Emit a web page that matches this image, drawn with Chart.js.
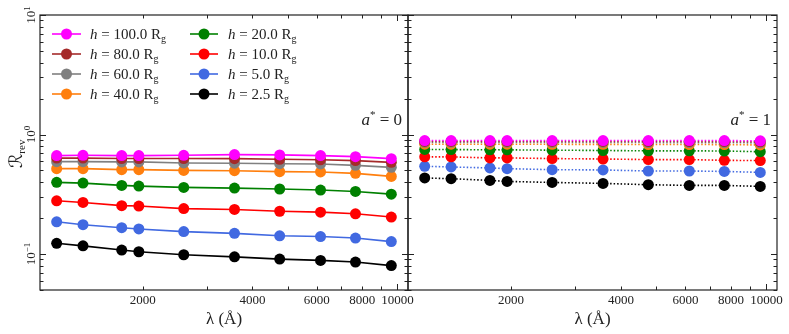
<!DOCTYPE html>
<html>
<head>
<meta charset="utf-8">
<script src="https://cdn.jsdelivr.net/npm/chart.js@4/dist/chart.umd.min.js"></script>
<style>
  html, body { margin: 0; padding: 0; background: #fff; }
  #wrap { position: relative; width: 789px; height: 334px; overflow: hidden; }
  canvas { position: absolute; top: 0; }
  #left { left: 0; }
  #right { left: 400px; }
</style>
</head>
<body>
<div id="wrap">
  <canvas id="left" width="416" height="334"></canvas>
  <canvas id="right" width="389" height="334"></canvas>
</div>
<script>
// wavelengths (Angstrom)
const lambdaAngstrom = [1160, 1370, 1750, 1950, 2590, 3570, 4750, 6150, 7670, 9620];
const heightLabels = ['100.0', '80.0', '60.0', '40.0', '20.0', '10.0', '5.0', '2.5'];
const xTickLabels = [2000, 4000, 6000, 8000, 10000];
const yTickLabels = [0.1, 1, 10];

// a* = 0
const rev_a0_h100 = [0.666, 0.670, 0.666, 0.666, 0.670, 0.679, 0.675, 0.666, 0.653, 0.628];
const rev_a0_h80  = [0.635, 0.635, 0.630, 0.630, 0.630, 0.628, 0.620, 0.615, 0.605, 0.585];
const rev_a0_h60  = [0.593, 0.593, 0.590, 0.590, 0.578, 0.575, 0.570, 0.567, 0.552, 0.531];
const rev_a0_h40  = [0.518, 0.518, 0.508, 0.508, 0.501, 0.498, 0.489, 0.486, 0.473, 0.446];
const rev_a0_h20  = [0.398, 0.392, 0.375, 0.370, 0.361, 0.356, 0.350, 0.343, 0.334, 0.317];
const rev_a0_h10  = [0.279, 0.270, 0.254, 0.252, 0.240, 0.236, 0.228, 0.224, 0.217, 0.204];
const rev_a0_h5   = [0.186, 0.176, 0.166, 0.162, 0.154, 0.149, 0.142, 0.140, 0.136, 0.127];
const rev_a0_h2_5 = [0.123, 0.117, 0.108, 0.1045, 0.0986, 0.0947, 0.0907, 0.0884, 0.0857, 0.080];

// a* = 1
const rev_a1_h100 = [0.890, 0.890, 0.890, 0.890, 0.890, 0.890, 0.890, 0.890, 0.890, 0.885];
const rev_a1_h80  = [0.875, 0.875, 0.875, 0.875, 0.875, 0.875, 0.873, 0.873, 0.872, 0.868];
const rev_a1_h60  = [0.860, 0.860, 0.860, 0.860, 0.858, 0.858, 0.856, 0.856, 0.855, 0.850];
const rev_a1_h40  = [0.830, 0.830, 0.830, 0.830, 0.828, 0.827, 0.825, 0.825, 0.823, 0.818];
const rev_a1_h20  = [0.750, 0.748, 0.745, 0.744, 0.740, 0.735, 0.730, 0.730, 0.728, 0.718];
const rev_a1_h10  = [0.650, 0.650, 0.637, 0.637, 0.629, 0.624, 0.617, 0.617, 0.608, 0.605];
const rev_a1_h5   = [0.542, 0.535, 0.525, 0.518, 0.508, 0.505, 0.495, 0.495, 0.491, 0.482];
const rev_a1_h2_5 = [0.433, 0.427, 0.413, 0.405, 0.397, 0.390, 0.380, 0.375, 0.375, 0.368];

const seriesColors = ['#ff00ff', '#a52a2a', '#808080', '#ff7f0e', '#008000', '#ff0000', '#4169e1', '#000000'];

const spin0Series = [rev_a0_h100, rev_a0_h80, rev_a0_h60, rev_a0_h40, rev_a0_h20, rev_a0_h10, rev_a0_h5, rev_a0_h2_5];
const spin1Series = [rev_a1_h100, rev_a1_h80, rev_a1_h60, rev_a1_h40, rev_a1_h20, rev_a1_h10, rev_a1_h5, rev_a1_h2_5];

const SERIF = '"Liberation Serif", "DejaVu Serif", serif';
const INK = '#222';

// minor/major tick positions for the log axes
function logTicks(min, max) {
  const major = [], minor = [];
  for (let e = Math.floor(Math.log10(min)); e <= Math.ceil(Math.log10(max)); e++) {
    for (let m = 1; m < 10; m++) {
      const v = m * Math.pow(10, e);
      if (v < min * 0.999 || v > max * 1.001) continue;
      (m === 1 ? major : minor).push(v);
    }
  }
  return {major, minor};
}

function drawPow(ctx, x, y, exp) {
  ctx.save();
  ctx.translate(x, y);
  ctx.rotate(-Math.PI / 2);
  ctx.fillStyle = INK;
  ctx.textBaseline = 'alphabetic';
  ctx.textAlign = 'left';
  ctx.font = '13px ' + SERIF;
  const w1 = ctx.measureText('10').width;
  ctx.font = '9px ' + SERIF;
  const w2 = ctx.measureText(exp).width;
  const x0 = -(w1 + w2) / 2;
  ctx.font = '13px ' + SERIF;
  ctx.fillText('10', x0, 0);
  ctx.font = '9px ' + SERIF;
  ctx.fillText(exp, x0 + w1, -5);
  ctx.restore();
}

// draw a run of text pieces [text, font, dy]
function drawRun(ctx, x, y, parts, align) {
  let total = 0;
  for (const p of parts) { ctx.font = p[1]; total += ctx.measureText(p[0]).width; }
  let cx = align === 'right' ? x - total : x;
  for (const p of parts) {
    ctx.font = p[1];
    ctx.fillText(p[0], cx, y + (p[2] || 0));
    cx += ctx.measureText(p[0]).width;
  }
}

const framePlugin = {
  id: 'frame',
  afterDraw(chart, args, opts) {
    const {ctx, chartArea: a, scales: {x, y}} = chart;
    ctx.save();
    ctx.strokeStyle = INK;
    ctx.lineWidth = 1.2;
    ctx.strokeRect(a.left, a.top, a.right - a.left, a.bottom - a.top);

    ctx.lineWidth = 1;
    const yt = logTicks(y.min, y.max);
    const xt = logTicks(x.min, x.max);
    ctx.beginPath();
    const tickY = (v, len) => {
      const p = Math.round(y.getPixelForValue(v)) + 0.5;
      ctx.moveTo(a.left, p); ctx.lineTo(a.left + len, p);
      ctx.moveTo(a.right, p); ctx.lineTo(a.right - len, p);
    };
    const tickX = (v, len) => {
      const p = Math.round(x.getPixelForValue(v)) + 0.5;
      ctx.moveTo(p, a.bottom); ctx.lineTo(p, a.bottom - len);
      ctx.moveTo(p, a.top); ctx.lineTo(p, a.top + len);
    };
    yt.major.forEach(v => tickY(v, 6));
    yt.minor.forEach(v => tickY(v, 3.5));
    xt.major.forEach(v => tickX(v, 6));
    xt.minor.forEach(v => tickX(v, 3.5));
    ctx.stroke();

    ctx.fillStyle = INK;

    // x tick labels
    ctx.font = '13px ' + SERIF;
    ctx.textAlign = 'center';
    ctx.textBaseline = 'alphabetic';
    xTickLabels.forEach(v => ctx.fillText(String(v), x.getPixelForValue(v), a.bottom + 14));

    ctx.textAlign = 'left';
    if (opts.yLabels) {
      yTickLabels.forEach(v => drawPow(ctx, 35, y.getPixelForValue(v), String(Math.round(Math.log10(v))).replace('-', '\u2212')));
      // y title
      ctx.save();
      ctx.translate(22, 152);
      ctx.rotate(-Math.PI / 2);
      drawRun(ctx, -16, 0, [
        ['\u211B', '18px "DejaVu Serif", "DejaVu Sans"', 0],
        ['rev', '11px ' + SERIF, 3]
      ], 'left');
      ctx.restore();
    }

    // spin annotation
    drawRun(ctx, a.right - 6, 125, [
      ['a', 'italic 17px ' + SERIF, 0],
      ['*', '11px ' + SERIF, -7],
      [' = ' + opts.spin, '17px ' + SERIF, 0]
    ], 'right');

    if (opts.legend) {
      chart.data.datasets.forEach((ds, i) => {
        const col = i < 4 ? 0 : 1;
        const row = i % 4;
        const x0 = col ? 190 : 52, x1 = col ? 218 : 81;
        const cy = 34 + 20 * row;
        ctx.strokeStyle = ds.borderColor;
        ctx.lineWidth = 1.6;
        ctx.setLineDash([]);
        ctx.beginPath(); ctx.moveTo(x0, cy); ctx.lineTo(x1, cy); ctx.stroke();
        ctx.fillStyle = ds.borderColor;
        ctx.beginPath(); ctx.arc((x0 + x1) / 2, cy, 5.5, 0, Math.PI * 2); ctx.fill();
        ctx.fillStyle = INK;
        drawRun(ctx, col ? 228 : 90, cy + 5, [
          ['h', 'italic 15px ' + SERIF, 0],
          [' = ' + ds.label + ' R', '15px ' + SERIF, 0],
          ['g', '10px ' + SERIF, 3]
        ], 'left');
      });
    }
    ctx.restore();
  }
};

function makeChart(id, seriesList, dash, opts, padRight, yWidth) {
  const datasets = seriesList.map((vals, i) => ({
    label: heightLabels[i],
    data: lambdaAngstrom.map((w, k) => ({x: w, y: vals[k]})),
    borderColor: seriesColors[i],
    backgroundColor: seriesColors[i],
    pointBackgroundColor: seriesColors[i],
    pointBorderWidth: 0,
    pointRadius: 5.5,
    borderWidth: 1.6,
    borderDash: dash,
    tension: 0
  }));
  return new Chart(document.getElementById(id), {
    type: 'line',
    data: {datasets},
    options: {
      responsive: false,
      animation: false,
      devicePixelRatio: 1,
      layout: {padding: {top: 15, right: padRight, left: 0, bottom: 0}},
      plugins: {legend: {display: false}, tooltip: {enabled: false}, frame: opts},
      scales: {
        x: {
          type: 'logarithmic', min: 1044, max: 10690,
          grid: {display: false, drawTicks: false}, border: {display: false},
          ticks: {display: false},
          afterFit: s => { s.height = 44; s.paddingLeft = 0; s.paddingRight = 0; },
          title: {display: true, text: 'λ (Å)', color: INK, font: {family: SERIF, size: 17},
                  padding: {top: 0, bottom: 4}}
        },
        y: {
          type: 'logarithmic', min: 0.05, max: 10,
          grid: {display: false}, border: {display: false}, ticks: {display: false},
          afterFit: s => { s.width = yWidth; s.paddingTop = 0; s.paddingBottom = 0; }
        }
      }
    },
    plugins: [framePlugin]
  });
}

makeChart('left', spin0Series, [], {spin: '0', legend: true, yLabels: true}, 8, 40);
makeChart('right', spin1Series, [1.5, 2], {spin: '1', legend: false, yLabels: false}, 12, 8);
</script>
</body>
</html>
